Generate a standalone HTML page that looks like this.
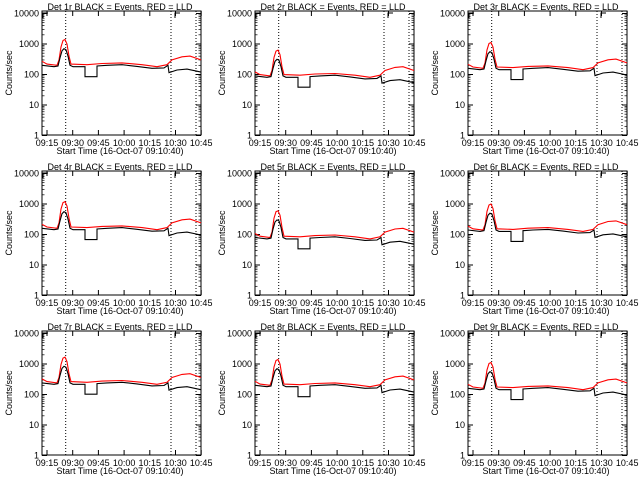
<!DOCTYPE html>
<html><head><meta charset="utf-8"><style>
html,body{margin:0;padding:0;background:#fff;width:640px;height:480px;overflow:hidden}
svg text{font-family:"Liberation Sans",sans-serif;font-size:9px;fill:#000}
</style></head><body>
<svg id="s" width="640" height="480" xmlns="http://www.w3.org/2000/svg"></svg>
<script>
var S=document.getElementById('s');var h='';
var B=[[0,200],[12,180],[16,190],[18,350,1],[20,600,1],[22,700,1],[24,650,1],[26,400,1],[28,200],[31,180],[43,180],[43,85],[55,85],[55,190],[65,200],[80,210],[95,185],[110,160],[122,165],[126,200],[127,115],[135,140],[145,150],[159,120]];
var R=[[0,270],[5,220],[15,200],[17,300],[19,800,1],[21,1300,1],[23,1400,1],[25,1000,1],[27,400,1],[29,220],[45,210],[60,230],[80,240],[100,210],[115,180],[125,210],[130,300],[140,380],[148,400],[159,300]];
var P=[[1,1400,700],[0.45,600,300],[0.8,1000,500],[0.8,1200,550],[0.4,600,300],[0.7,1000,500],[1.2,1400,800],[1.0,1300,700],[0.8,1000,500]];
var xl=['09:15','09:30','09:45','10:00','10:15','10:30','10:45'];
for(var i=0;i<9;i++){
 var ox=(i%3)*213,oy=Math.floor(i/3)*160;
 var L=ox+42,T=oy+11,W=159,H=124;
 function Y(v){return oy+13.5+(4-Math.log10(v))*30.5;}
 h+='<rect x="'+L+'" y="'+T+'" width="'+W+'" height="'+H+'" fill="none" stroke="#000" stroke-width="1"/>';
 for(var d=0;d<=4;d++){var v=Math.pow(10,d);var y=Y(v);
  h+='<line x1="'+L+'" x2="'+(L+5)+'" y1="'+y+'" y2="'+y+'" stroke="#000"/><line x1="'+(L+W-5)+'" x2="'+(L+W)+'" y1="'+y+'" y2="'+y+'" stroke="#000"/>';
  h+='<text x="'+(L-3)+'" y="'+(y+3)+'" text-anchor="end" font-size="8.5">'+v+'</text>';
  if(d<4)for(var m=2;m<10;m++){var ym=Y(v*m);h+='<line x1="'+L+'" x2="'+(L+2.5)+'" y1="'+ym+'" y2="'+ym+'" stroke="#000" stroke-width="0.7"/><line x1="'+(L+W-2.5)+'" x2="'+(L+W)+'" y1="'+ym+'" y2="'+ym+'" stroke="#000" stroke-width="0.7"/>';}
 }
 for(var k=0;k<7;k++){var x=ox+47+k*25.7;
  h+='<line x1="'+x+'" x2="'+x+'" y1="'+(T+H)+'" y2="'+(T+H-5)+'" stroke="#000"/><line x1="'+x+'" x2="'+x+'" y1="'+T+'" y2="'+(T+5)+'" stroke="#000"/>';
  h+='<text x="'+x+'" y="'+(oy+146)+'" text-anchor="middle" font-size="8.5">'+xl[k]+'</text>';}
 [65.7,171,196].forEach(function(x){h+='<line x1="'+(ox+x)+'" x2="'+(ox+x)+'" y1="'+T+'" y2="'+(T+H)+'" stroke="#000" stroke-dasharray="1,2"/>';});
 h+='<path d="M'+(L+1)+' '+(T+7)+'V'+(T+2)+'H'+(L+6)+'M'+(ox+175)+' '+(T+7)+'V'+(T+2)+'H'+(ox+180)+'" fill="none" stroke="#000"/>';
 h+='<text x="'+(ox+120)+'" y="'+(oy+10)+'" text-anchor="middle">Det '+(i+1)+'r BLACK = Events, RED = LLD</text>';
 h+='<text x="'+(ox+120)+'" y="'+(oy+154)+'" text-anchor="middle">Start Time (16-Oct-07 09:10:40)</text>';
 h+='<text transform="translate('+(ox+12)+','+(oy+73)+') rotate(-90)" text-anchor="middle" font-size="8">Counts/sec</text>';
 var p=P[i];
 function path(A,pk,base){var s='';A.forEach(function(a,j){var v=a[1]*p[0];if(a[2])v=Math.max(a[1]*pk/base,v);s+=(j?'L':'M')+(L+a[0]).toFixed(1)+' '+Y(v).toFixed(1);});return s;}
 h+='<path d="'+path(R,p[1],1400)+'" fill="none" stroke="#f00" stroke-width="1.1"/>';
 h+='<path d="'+path(B,p[2],700)+'" fill="none" stroke="#000" stroke-width="1.1"/>';
}
S.innerHTML=h;
</script>
</body></html>
